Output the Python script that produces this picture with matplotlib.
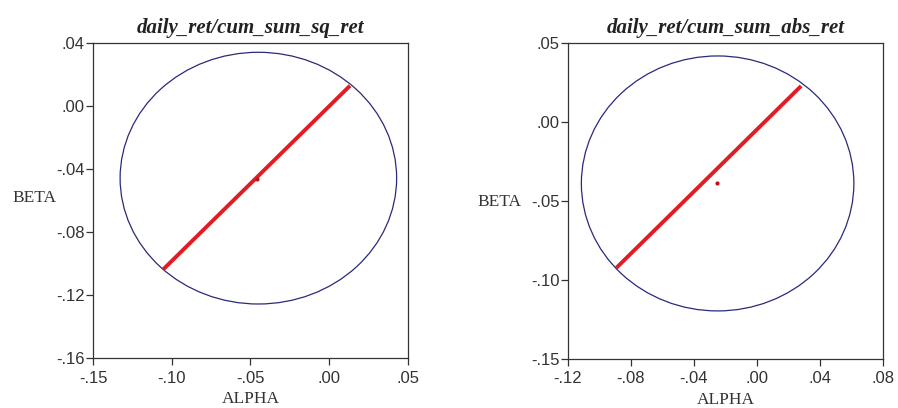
import numpy as np
import matplotlib
matplotlib.use("Agg")
import matplotlib.pyplot as plt
from matplotlib.patches import Ellipse

titles = ["daily_ret/cum_sum_sq_ret", "daily_ret/cum_sum_abs_ret"]
x_label = "ALPHA"
y_label = "BETA"

# confidence ellipse: centre and semi-axes (alpha, beta)
ell_center_alpha = [-0.0450, -0.0250]
ell_center_beta = [-0.0458, -0.0390]
ell_half_alpha = [0.0878, 0.0865]
ell_half_beta = [0.0799, 0.0806]

# red segment end points
seg_alpha = [[-0.1054, 0.0132], [-0.0893, 0.0280]]
seg_beta = [[-0.1037, 0.0129], [-0.0924, 0.0226]]

# point estimate
pt_alpha = [-0.0460, -0.0253]
pt_beta = [-0.0465, -0.0386]

xlims = [(-0.15, 0.05), (-0.12, 0.08)]
ylims = [(-0.16, 0.04), (-0.15, 0.05)]
xticks = [[-0.15, -0.10, -0.05, 0.00, 0.05], [-0.12, -0.08, -0.04, 0.00, 0.04, 0.08]]
xticklabels = [["-.15", "-.10", "-.05", ".00", ".05"], ["-.12", "-.08", "-.04", ".00", ".04", ".08"]]
yticks = [[-0.16, -0.12, -0.08, -0.04, 0.00, 0.04], [-0.15, -0.10, -0.05, 0.00, 0.05]]
yticklabels = [["-.16", "-.12", "-.08", "-.04", ".00", ".04"], ["-.15", "-.10", "-.05", ".00", ".05"]]

fig = plt.figure(figsize=(8.98, 4.08), dpi=100)
positions = [[0.1036, 0.1225, 0.3507, 0.7721], [0.6325, 0.1201, 0.3508, 0.7753]]
ylabel_pos = [(-0.187, 0.508), (-0.219, 0.497)]

for i in range(2):
    ax = fig.add_axes(positions[i])
    ax.add_patch(Ellipse((ell_center_alpha[i], ell_center_beta[i]),
                         2 * ell_half_alpha[i], 2 * ell_half_beta[i],
                         fill=False, edgecolor="#2a2a7a", lw=0.9))
    ax.plot(seg_alpha[i], seg_beta[i], color="#e31b23", lw=2.8, solid_capstyle="butt")
    ax.plot([pt_alpha[i]], [pt_beta[i]], marker="o", ms=3, color="#c0141c", mec="none")
    ax.set_xlim(*xlims[i])
    ax.set_ylim(*ylims[i])
    ax.set_xticks(xticks[i])
    ax.set_xticklabels(xticklabels[i], family="Liberation Sans", fontsize=12, color="#333333")
    ax.set_yticks(yticks[i])
    ax.set_yticklabels(yticklabels[i], family="Liberation Sans", fontsize=12, color="#333333")
    ax.tick_params(direction="out", length=5, width=0.9, color="#333333")
    ax.tick_params(axis="x", pad=4)
    ax.tick_params(axis="y", pad=1)
    for s in ax.spines.values():
        s.set_color("#333333")
        s.set_linewidth(0.9)
    ax.set_title(titles[i], family="Liberation Serif", fontstyle="italic", fontweight="bold",
                 fontsize=15, pad=7, color="#222222")
    ax.set_xlabel(x_label, family="Liberation Serif", fontsize=12.5, labelpad=4, color="#333333")
    ax.text(ylabel_pos[i][0], ylabel_pos[i][1], y_label, transform=ax.transAxes,
            family="Liberation Serif", fontsize=12.5, ha="center", va="center", color="#333333")

fig.savefig("out.png", dpi=100)
